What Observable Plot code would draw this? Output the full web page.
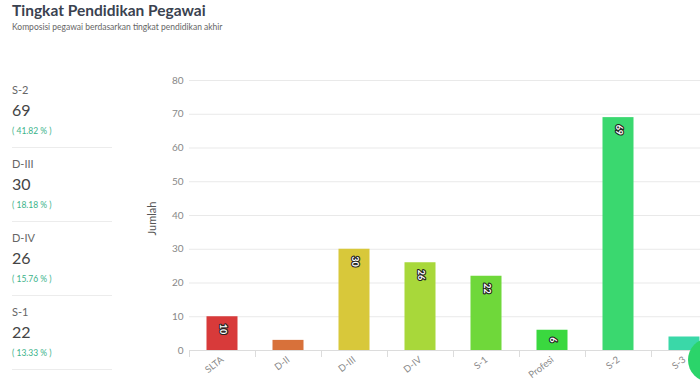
<!DOCTYPE html>
<html>
<head>
<meta charset="utf-8">
<script src="https://cdn.jsdelivr.net/npm/d3@7"></script>
<script src="https://cdn.jsdelivr.net/npm/@observablehq/plot@0.6"></script>
<style>
  html, body { margin: 0; padding: 0; background: #fff; width: 700px; height: 384px; overflow: hidden; }
  body { position: relative; font-family: Lato, "Open Sans", sans-serif; }
  #title { position: absolute; left: 12px; top: 1px; font-size: 15.5px; font-weight: 700; color: #3a4250; }
  #subtitle { position: absolute; left: 12px; top: 22px; font-size: 8.5px; color: #666; }
  .stat { position: absolute; left: 12px; width: 100px; line-height: 1.2; }
  .stat .cat { font-size: 11px; color: #666; }
  .stat .val { font-size: 16px; color: #444; margin-top: 4px; }
  .stat .pct { font-size: 8.5px; color: #3bb38a; margin-top: 7px; }
  .sep { position: absolute; left: 12px; width: 100px; height: 1px; background: #ececec; }
  #chart { position: absolute; left: 140px; top: 60px; width: 600px; }
  #chart svg { max-width: none !important; }
  #fab { position: absolute; left: 688px; top: 338px; width: 44px; height: 44px; border-radius: 50%; background: #2bd46a; }
</style>
</head>
<body>
<div id="title">Tingkat Pendidikan Pegawai</div>
<div id="subtitle">Komposisi pegawai berdasarkan tingkat pendidikan akhir</div>
<div id="stats"></div>
<div id="chart"></div>
<div id="fab"></div>
<script>
const categories = ["SLTA", "D-II", "D-III", "D-IV", "S-1", "Profesi", "S-2", "S-3"];
const values = [10, 3, 30, 26, 22, 6, 69, 4];
const colors = ["#d83a3a", "#d8713a", "#d8c83a", "#a8d83a", "#6fd83a", "#3ad83f", "#3ad86f", "#3ad8a8"];
const yTicks = [0, 10, 20, 30, 40, 50, 60, 70, 80];
const yLabel = "Jumlah";

const statCats = ["S-2", "D-III", "D-IV", "S-1"];
const statVals = [69, 30, 26, 22];
const statPcts = ["41.82", "18.18", "15.76", "13.33"];

// left summary panel
const stats = document.getElementById("stats");
statCats.forEach((c, i) => {
  const top = 83 + i * 74;
  const d = document.createElement("div");
  d.className = "stat";
  d.style.top = top + "px";
  d.innerHTML = `<div class="cat">${c}</div><div class="val">${statVals[i]}</div><div class="pct">( ${statPcts[i]} % )</div>`;
  stats.appendChild(d);
  const s = document.createElement("div");
  s.className = "sep";
  s.style.top = (top + 64) + "px";
  stats.appendChild(s);
});

const data = categories.map((c, i) => ({category: c, value: values[i], color: colors[i]}));

const chart = Plot.plot({
  width: 577,
  height: 320,
  marginLeft: 49,
  marginRight: 0,
  marginTop: 20,
  marginBottom: 30,
  style: {fontFamily: "Lato, 'Open Sans', sans-serif", overflow: "visible", maxWidth: "none"},
  x: {domain: categories, padding: 0, label: null},
  y: {domain: [0, 80], label: null},
  marks: [
    Plot.gridY(yTicks, {stroke: "#e9e9e9", strokeOpacity: 1}),
    Plot.axisY(yTicks, {tickSize: 0, tickPadding: 6, fontSize: 10, fill: "#888", label: null}),
    Plot.text([yLabel], {frameAnchor: "left", dx: -37, dy: 20, rotate: -90, fontSize: 11, fill: "#555"}),
    Plot.barY(data, {x: "category", y: "value", fill: "color", insetLeft: 17.5, insetRight: 17.5}),
    Plot.ruleY([0], {stroke: "#dcdcdc"}),
    Plot.axisX({tickSize: 7, dx: -33, stroke: "#dcdcdc", tickFormat: () => "", label: null}),
    Plot.axisX({tickSize: 0, tickPadding: 8, tickRotate: -38, fontSize: 9.5, fill: "#888", label: null}),
    Plot.text(data.filter(d => d.value >= 5), {x: "category", y: "value", text: d => String(d.value),
      rotate: 90, textAnchor: "start", dy: 7, fill: "white", stroke: "#222", strokeWidth: 2.2,
      fontWeight: "bold", fontSize: 9})
  ]
});
document.getElementById("chart").appendChild(chart);
</script>
</body>
</html>
